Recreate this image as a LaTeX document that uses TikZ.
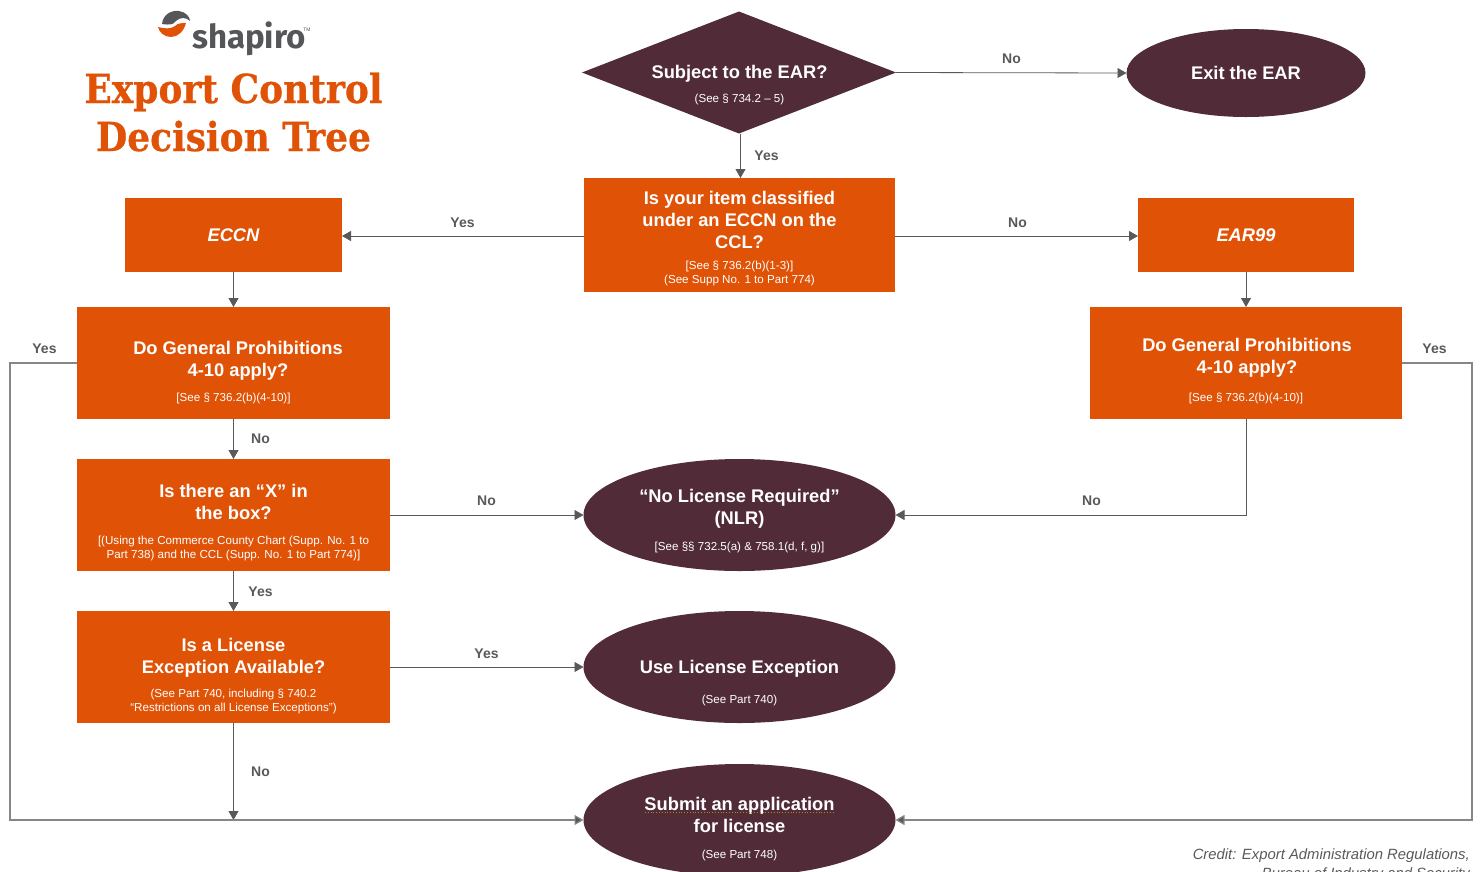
\documentclass[tikz,border=0pt]{standalone}
\usepackage{fontspec}
\setmainfont{Liberation Sans}
\newfontfamily\slabfont[BoldFeatures={FakeBold=0.6}]{DejaVu Serif Condensed}
\newfontfamily\logofont{Fira Sans}
\usetikzlibrary{shapes.geometric,arrows.meta,calc}
\definecolor{ordarkorange}{HTML}{E05206}
\definecolor{ormaroon}{HTML}{512C38}
\definecolor{orgrey}{HTML}{595959}
\definecolor{orline}{HTML}{868686}
\definecolor{orlogo}{HTML}{55565A}
\definecolor{orgold}{HTML}{B8860B}
\newcommand{\mainf}{\fontsize{18.3}{22}\selectfont\bfseries}
\newcommand{\subf}{\fontsize{11.6}{13.8}\selectfont}
\newcommand{\subl}[1]{{\subf\mdseries\begin{tabular}{@{}c@{}}#1\end{tabular}}}
\newcommand{\dn}[1]{\rule{0pt}{\dimexpr13pt+#1pt+#1pt\relax}}
\tikzset{
  x=1pt,y=-1pt,
  orbox/.style={fill=ordarkorange,text=white,align=center,inner sep=0pt,outer sep=0pt,font=\mainf},
  mar/.style={ellipse,fill=ormaroon,text=white,align=center,inner sep=-8pt,outer sep=0pt,minimum width=312pt,minimum height=112pt,font=\mainf},
  conn/.style={draw=orgrey,line width=0.8pt,-{Triangle[length=9pt,width=10pt]}},
  outer/.style={draw=orline,line width=1.2pt,-{Triangle[length=9pt,width=10pt,fill=orgrey]}},
  lab/.style={text=orgrey,font=\fontsize{14}{16}\selectfont\bfseries,inner sep=0pt},
  ttl/.style={text=ordarkorange,font=\fontsize{40}{47}\selectfont\slabfont\bfseries,anchor=base,inner sep=0pt},
}
\begin{document}
\begin{tikzpicture}
\useasboundingbox (0,0) rectangle (1483,871);
\clip (0,0) rectangle (1483,871);
% logo
\fill[orlogo] (162,24) .. controls (163,14) and (172,10) .. (179,11) .. controls (186,12) and (190,17) .. (190,21) .. controls (186,17) and (180,17) .. (176,21) .. controls (173,25) and (170,25) .. (162,24) -- cycle;
\fill[ordarkorange] (158,27) .. controls (165,29) and (171,29) .. (175,26) .. controls (178,23) and (182,23) .. (186,23) .. controls (184,31) and (178,37) .. (171,37) .. controls (164,37) and (159,32) .. (158,27) -- cycle;
\node[text=orlogo,inner sep=0pt,font=\fontsize{33}{36}\selectfont\logofont\bfseries] (logo) at (249,39) {shapiro};
\node[text=orlogo,inner sep=0pt,font=\fontsize{5}{6}\selectfont] (tm) at (307,30) {TM};
\node[ttl] (title1) at (233.5,103) {Export Control};
\node[ttl] (title2) at (233.5,151) {Decision Tree};
% shapes
\node[diamond,fill=ormaroon,inner sep=0pt,outer sep=0pt,minimum width=314pt,minimum height=122pt,aspect=2.57] (ear) at (739,72.5) {};
\node[text=white,align=center,inner sep=0pt,font=\mainf] (eartext) at (739.5,72) {\dn{14}Subject to the EAR?\\[3pt]\subl{(See § 734.2 – 5)}};
\node[mar,minimum width=239pt,minimum height=88pt] (exit) at (1246,73) {Exit the EAR};
\node[orbox,minimum width=311pt,minimum height=114pt] (item) at (739.5,235) {\dn{4.5}Is your item classified\\under an ECCN on the\\CCL?\\[7pt]\subl{[See § 736.2(b)(1-3)]\\(See Supp No. 1 to Part 774)}};
\node[orbox,minimum width=217pt,minimum height=74pt,font=\mainf\itshape] (eccn) at (233.5,235) {ECCN};
\node[orbox,minimum width=216pt,minimum height=74pt,font=\mainf\itshape] (ear99) at (1246,235) {EAR99};
\node[orbox,minimum width=313pt,minimum height=112pt] (gpl) at (233.5,363) {\dn{10.5}\hspace*{9pt}Do General Prohibitions\\\hspace*{9pt}4-10 apply?\\[3.5pt]\subl{[See § 736.2(b)(4-10)]}};
\node[orbox,minimum width=312pt,minimum height=112pt] (gpr) at (1246,363) {\dn{9}\hspace*{2pt}Do General Prohibitions\\\hspace*{2pt}4-10 apply?\\[6pt]\subl{[See § 736.2(b)(4-10)]}};
\node[orbox,minimum width=313pt,minimum height=112pt] (xbox) at (233.5,515) {\dn{8.5}Is there an “X” in\\the box?\\[10pt]\subl{[(Using the Commerce County Chart (Supp. No. 1 to\\Part 738) and the CCL (Supp. No. 1 to Part 774)]}};
\node[orbox,minimum width=313pt,minimum height=112pt] (lic) at (233.5,667) {\dn{10}Is a License\\Exception Available?\\[10pt]\subl{(See Part 740, including § 740.2\\“Restrictions on all License Exceptions”)}};
\node[mar] (nlr) at (739.5,515) {\dn{7}“No License Required”\\(NLR)\\[4pt]\subl{[See §§ 732.5(a) \& 758.1(d, f, g)]}};
\node[mar] (use) at (739.5,667) {\dn{17}Use License Exception\\[8pt]\subl{(See Part 740)}};
\node[mar] (sub) at (739.5,820) {\dn{10}Submit an application\\for license\\[5pt]\subl{(See Part 748)}};
% coordinates
\coordinate (lbot) at (233.5,820);
\coordinate (lfar) at (10,363);
\coordinate (rfar) at (1472,363);
% connectors
\draw[conn] (ear.east) -- (exit.west);
\draw[conn] ([xshift=1.5pt]ear.south) -- ([xshift=1.5pt]ear.south |- item.north);
\draw[conn] ([yshift=-1pt]item.west |- eccn.east) -- ([yshift=-1pt]eccn.east);
\draw[conn] ([yshift=-1pt]item.east |- ear99.west) -- ([yshift=-1pt]ear99.west);
\draw[conn] (eccn.south) -- (eccn.south |- gpl.north);
\draw[conn] (ear99.south) -- (ear99.south |- gpr.north);
\draw[conn] (gpl.south) -- (xbox.north);
\draw[conn] (xbox.south) -- (lic.north);
\draw[conn] (lic.south) -- (lbot);
\draw[conn] (xbox.east) -- (nlr.west);
\draw[conn] (lic.east) -- (use.west);
\draw[conn] (gpr.south) |- (nlr.east);
\draw[outer] (gpl.west) -- (lfar) |- (sub.west);
\draw[outer] (gpr.east) -- (rfar) |- (sub.east);
% squiggle
\draw[draw=orgold,line width=0.8pt,dotted] (645,812.5) -- (835,812.5);
% labels
\node[lab] (l1) at (1011.5,59) {No};
\node[lab] (l2) at (766.5,156) {Yes};
\node[lab] (l3) at (462.5,223) {Yes};
\node[lab] (l4) at (1017.5,223) {No};
\node[lab] (l5) at (44.5,349) {Yes};
\node[lab] (l6) at (1434.5,349) {Yes};
\node[lab] (l7) at (260.5,439) {No};
\node[lab] (l8) at (486.5,501) {No};
\node[lab] (l9) at (1091.5,501) {No};
\node[lab] (l10) at (260.5,592) {Yes};
\node[lab] (l11) at (486.5,654) {Yes};
\node[lab] (l12) at (260.5,772) {No};
\node[text=orgrey,align=right,anchor=north east,inner sep=0pt,font=\fontsize{14.85}{19}\selectfont\itshape] (credit) at (1470,849) {Credit: Export Administration Regulations,\\Bureau of Industry and Security};
\end{tikzpicture}
\end{document}
